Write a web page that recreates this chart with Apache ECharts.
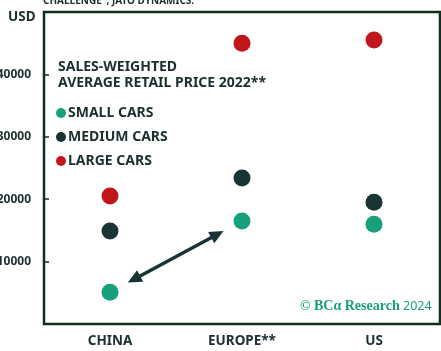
<!DOCTYPE html>
<html>
<head>
<meta charset="utf-8">
<script src="https://cdn.jsdelivr.net/npm/echarts@6/dist/echarts.min.js"></script>
<style>
  html, body { margin: 0; padding: 0; background: #ffffff; }
  #chart { width: 441px; height: 351px; }
</style>
</head>
<body>
<div id="chart"></div>
<script>
// Sales-weighted average retail price by market, 2022 (USD)
const markets = ['CHINA', 'EUROPE**', 'US'];
const smallCars = [5100, 16500, 16000];
const mediumCars = [14900, 23400, 19500];
const largeCars = [20500, 45000, 45500];
const yTicks = [10000, 20000, 30000, 40000];

const FONT = '"Noto Sans"';
const INK = '#1b2f2f';
const FRAME = '#10301e';
const GREEN = '#17a07b';
const DARK = '#183434';
const RED = '#c2161d';

const chart = echarts.init(document.getElementById('chart'), null, { renderer: 'canvas' });

function dotSeries(name, values, color) {
  return {
    name: name,
    type: 'scatter',
    data: values,
    symbol: 'circle',
    symbolSize: 17,
    itemStyle: { color: color, opacity: 1 },
    emphasis: { disabled: true },
    z: 3
  };
}

const edgeLine = { show: true, onZero: false, lineStyle: { color: FRAME, width: 2 } };

chart.setOption({
  animation: false,
  backgroundColor: '#ffffff',
  grid: {
    left: 44, right: 1, top: 12, bottom: 27,
    show: false,
    containLabel: false,
    outerBoundsMode: 'none'
  },
  xAxis: {
    type: 'category',
    data: markets,
    boundaryGap: true,
    axisLine: edgeLine,
    axisTick: { show: false },
    splitLine: { show: false },
    axisLabel: {
      color: INK, fontFamily: 'Noto Sans', fontWeight: 'bold', fontSize: 13.5, margin: 10
    }
  },
  yAxis: {
    type: 'value',
    min: 0, max: 50000, interval: 10000,
    axisLine: edgeLine,
    axisTick: { show: true, inside: true, length: 5, lineStyle: { color: FRAME, width: 1.5 } },
    splitLine: { show: false },
    axisLabel: {
      color: INK, fontFamily: 'Noto Sans', fontWeight: 'bold', fontSize: 12, margin: 13,
      formatter: function (v) { return yTicks.indexOf(v) >= 0 ? String(v) : ''; }
    }
  },
  legend: {
    orient: 'vertical',
    left: 51, top: 101,
    itemWidth: 10, itemHeight: 10, itemGap: 10,
    icon: 'circle',
    selectedMode: false,
    data: ['SMALL CARS', 'MEDIUM CARS', 'LARGE CARS'],
    textStyle: { color: INK, fontFamily: 'Noto Sans', fontWeight: 'bold', fontSize: 14, padding: [0, 0, 0, -3] }
  },
  series: [
    dotSeries('SMALL CARS', smallCars, GREEN),
    dotSeries('MEDIUM CARS', mediumCars, DARK),
    dotSeries('LARGE CARS', largeCars, RED)
  ]
});

// Frame around the plot area, taken from the grid's own rectangle
const gridRect = chart.getModel().getComponent('grid', 0).coordinateSystem.getRect();

// Double-headed arrow between the China and Europe small-car dots
function arrowHead(tip, from, len, half) {
  const dx = tip[0] - from[0], dy = tip[1] - from[1];
  const d = Math.sqrt(dx * dx + dy * dy);
  const ux = dx / d, uy = dy / d;
  const bx = tip[0] - ux * len, by = tip[1] - uy * len;
  return {
    type: 'polygon',
    shape: { points: [tip, [bx - uy * half, by + ux * half], [bx + uy * half, by - ux * half]] },
    style: { fill: DARK },
    z: 10
  };
}
const pA = chart.convertToPixel({ seriesIndex: 0 }, [0, smallCars[0]]);
const pB = chart.convertToPixel({ seriesIndex: 0 }, [1, smallCars[1]]);
const lerp = (t) => [pA[0] + (pB[0] - pA[0]) * t, pA[1] + (pB[1] - pA[1]) * t];
const s = lerp(0.135), e = lerp(0.86);
const sIn = lerp(0.2), eIn = lerp(0.79);

chart.setOption({
  graphic: [
    {
      type: 'rect',
      shape: { x: gridRect.x, y: gridRect.y, width: gridRect.width, height: gridRect.height },
      style: { fill: 'none', stroke: FRAME, lineWidth: 2.5 },
      silent: true,
      z: 5
    },
    {
      type: 'text', left: 43, top: -4,
      style: { text: 'CHALLENGE", JATO DYNAMICS.', fill: INK, font: 'bold 10px ' + FONT }
    },
    {
      type: 'text', left: 8, top: 10,
      style: { text: 'USD', fill: INK, font: 'bold 13.5px ' + FONT }
    },
    {
      type: 'text', left: 58, top: 59,
      style: {
        text: 'SALES-WEIGHTED\nAVERAGE RETAIL PRICE 2022**',
        fill: INK, font: 'bold 14px ' + FONT, lineHeight: 16
      }
    },
    {
      type: 'text', left: 300, top: 299,
      style: {
        text: '{logo|\u00a9 BC\u03b1 Research} {yr|2024}',
        rich: {
          logo: { fill: GREEN, font: 'bold 14px "Liberation Serif", "DejaVu Serif", serif' },
          yr: { fill: GREEN, font: '12.5px ' + FONT }
        }
      }
    },
    {
      type: 'line',
      shape: { x1: sIn[0], y1: sIn[1], x2: eIn[0], y2: eIn[1] },
      style: { stroke: DARK, lineWidth: 3.5 },
      z: 10
    },
    arrowHead(s, e, 14, 6.5),
    arrowHead(e, s, 14, 6.5)
  ]
});
</script>
</body>
</html>
